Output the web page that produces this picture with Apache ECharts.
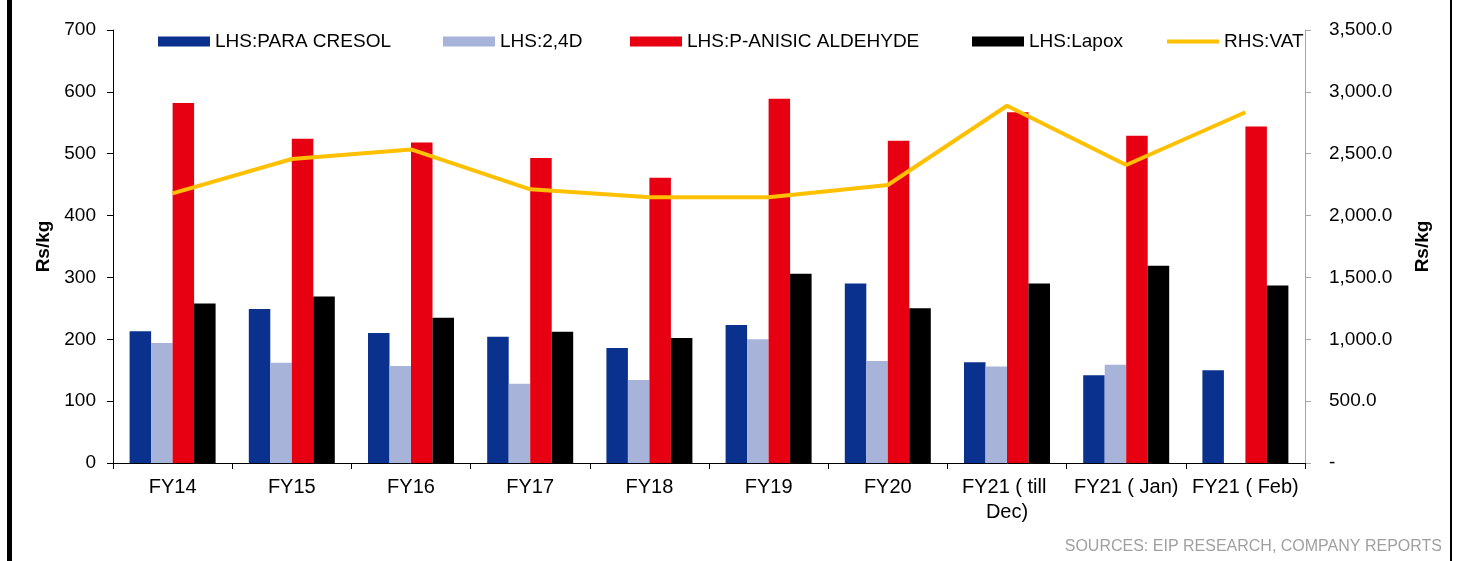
<!DOCTYPE html>
<html>
<head>
<meta charset="utf-8">
<script src="https://cdn.jsdelivr.net/npm/echarts@6/dist/echarts.min.js"></script>
<style>
  html, body { margin: 0; padding: 0; background: #fff; }
  #chart { width: 1459px; height: 561px; }
</style>
</head>
<body>
<div id="chart"></div>
<script>
// Price categories (financial years / months)
const categories = ['FY14', 'FY15', 'FY16', 'FY17', 'FY18', 'FY19', 'FY20', 'FY21 ( till Dec)', 'FY21 ( Jan)', 'FY21 ( Feb)'];

// Left-hand side series, Rs/kg
const paraCresol     = [213, 249, 210, 204, 186, 223, 290, 163, 142, 150];
const twoFourD       = [194, 162, 157, 128, 134, 200, 165, 156, 159, null];
const pAnisicAldehyde = [582, 524, 518, 493, 461, 589, 521, 567, 529, 544];
const lapox          = [258, 269, 235, 212, 202, 306, 250, 290, 319, 287];

// Right-hand side series, Rs/kg
const vat = [2180, 2457, 2535, 2212, 2148, 2148, 2247, 2888, 2409, 2835];

// Series names as shown in the legend
const seriesNames = ['LHS:PARA CRESOL', 'LHS:2,4D', 'LHS:P-ANISIC ALDEHYDE', 'LHS:Lapox', 'RHS:VAT'];

const FONT = 'Liberation Sans, Arial, sans-serif';
const chart = echarts.init(document.getElementById('chart'), null, { renderer: 'canvas' });

const barW = 21.5;
function bar(name, data, color) {
  return {
    name, type: 'bar', data, yAxisIndex: 0,
    barWidth: barW, barGap: '0%',
    itemStyle: { color },
    emphasis: { disabled: true }
  };
}

const legendLeft = [158, 443, 630, 972, 1167];
const legends = seriesNames.map((n, i) => ({
  data: [n],
  left: legendLeft[i],
  top: 32,
  padding: 0,
  itemWidth: 52,
  itemHeight: i === 4 ? 4 : 10,
  icon: 'rect',
  selectedMode: false,
  textStyle: { fontFamily: FONT, fontSize: 19, color: '#000', padding: [0, 0, 0, 0] }
}));

chart.setOption({
  animation: false,
  backgroundColor: '#fff',
  grid: { left: 113, right: 154, top: 30, bottom: 98 },
  legend: legends,
  xAxis: {
    type: 'category',
    data: categories,
    axisLine: { lineStyle: { color: '#000', width: 1 } },
    axisTick: { show: true, alignWithLabel: false, length: 6, lineStyle: { color: '#000' } },
    axisLabel: {
      fontFamily: FONT, fontSize: 20, color: '#000', margin: 12,
      interval: 0, width: 118, overflow: 'break', lineHeight: 25
    }
  },
  yAxis: [
    {
      type: 'value', min: 0, max: 700, interval: 100,
      name: 'Rs/kg', nameLocation: 'middle', nameGap: 58, nameRotate: 90,
      nameTextStyle: { fontFamily: FONT, fontSize: 19, fontWeight: 'bold', color: '#000' },
      axisLine: { show: true, lineStyle: { color: '#000' } },
      axisTick: { show: true, length: 6, lineStyle: { color: '#000' } },
      axisLabel: { fontFamily: FONT, fontSize: 19, color: '#000', margin: 17 },
      splitLine: { show: false }
    },
    {
      type: 'value', min: 0, max: 3500, interval: 500, position: 'right',
      name: 'Rs/kg', nameLocation: 'middle', nameGap: 108, nameRotate: 90,
      nameTextStyle: { fontFamily: FONT, fontSize: 19, fontWeight: 'bold', color: '#000' },
      axisLine: { show: true, lineStyle: { color: '#a6a6a6' } },
      axisTick: { show: true, length: 6, lineStyle: { color: '#a6a6a6' } },
      axisLabel: {
        fontFamily: FONT, fontSize: 19, color: '#000', margin: 24,
        formatter: v => v === 0 ? '-' : v.toLocaleString('en-US', { minimumFractionDigits: 1, maximumFractionDigits: 1 })
      },
      splitLine: { show: false }
    }
  ],
  series: [
    bar(seriesNames[0], paraCresol, '#0b318f'),
    bar(seriesNames[1], twoFourD, '#a7b3d9'),
    bar(seriesNames[2], pAnisicAldehyde, '#e60012'),
    bar(seriesNames[3], lapox, '#000000'),
    {
      name: seriesNames[4], type: 'line', yAxisIndex: 1, data: vat,
      symbol: 'none', z: 5,
      lineStyle: { color: '#ffc000', width: 4 },
      itemStyle: { color: '#ffc000' },
      emphasis: { disabled: true }
    }
  ],
  graphic: [
    // frame edges
    { type: 'rect', shape: { x: 7, y: 0, width: 5, height: 561 }, style: { fill: '#000' }, silent: true },
    { type: 'rect', shape: { x: 1450, y: 0, width: 2, height: 561 }, style: { fill: '#000' }, silent: true },
    {
      type: 'text', right: 17, top: 539, silent: true,
      style: { text: 'SOURCES: EIP RESEARCH, COMPANY REPORTS', fontFamily: FONT, fontSize: 16, fill: '#a0a0a0' }
    }
  ]
});
</script>
</body>
</html>
